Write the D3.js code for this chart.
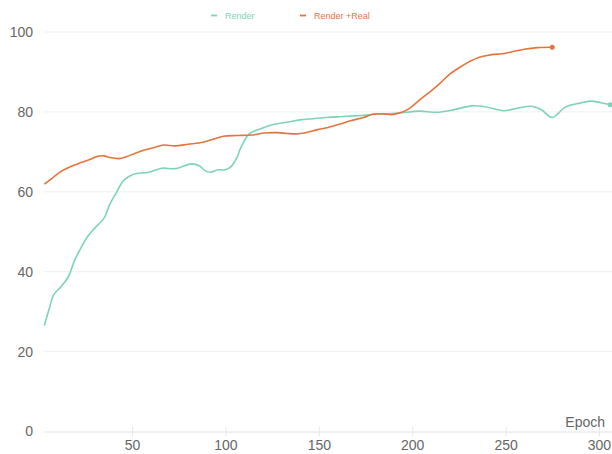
<!DOCTYPE html>
<html>
<head>
<meta charset="utf-8">
<script src="https://cdn.jsdelivr.net/npm/d3@7"></script>
<style>
  html, body { margin: 0; padding: 0; background: #fff; }
  svg { display: block; font-family: "Liberation Sans", Arial, Helvetica, sans-serif; }
</style>
</head>
<body>
<svg id="chart" width="612" height="454"></svg>
<script>
// ---- Data ----
const seriesNames = ["Render", "Render +Real"];

const renderEpochs = [3, 6, 8, 12, 16, 19, 23, 26, 30, 35, 38, 42, 45, 49, 52, 59, 66, 73, 82, 86, 89, 92, 96, 100, 103, 106, 108, 113, 119, 126, 133, 140, 147, 154, 161, 169, 176, 180, 186, 193, 204, 213, 222, 232, 239, 249, 256, 264, 269, 275, 282, 290, 296, 301, 306];
const renderValues = [26.5, 31.3, 34.2, 36.3, 38.8, 42.6, 46.3, 48.7, 50.9, 53.4, 56.8, 60.1, 62.6, 64.0, 64.5, 64.9, 65.9, 65.8, 67.0, 66.5, 65.3, 64.9, 65.5, 65.5, 66.3, 68.4, 70.8, 74.6, 75.8, 76.9, 77.4, 78.0, 78.3, 78.6, 78.8, 79.0, 79.2, 79.5, 79.5, 79.7, 80.2, 79.9, 80.5, 81.5, 81.3, 80.3, 80.9, 81.4, 80.6, 78.6, 81.2, 82.2, 82.7, 82.3, 81.8];

const realEpochs = [3, 8, 12, 16, 22, 27, 31, 35, 38, 43, 47, 52, 57, 62, 67, 73, 80, 88, 93, 99, 106, 114, 121, 128, 133, 138, 143, 149, 155, 161, 167, 174, 179, 185, 189, 193, 198, 204, 210, 215, 220, 226, 231, 236, 241, 250, 254, 260, 267, 275];
const realValues = [61.9, 63.7, 65.1, 66.1, 67.2, 68.0, 68.8, 69.0, 68.6, 68.3, 68.8, 69.7, 70.5, 71.1, 71.7, 71.5, 71.9, 72.4, 73.1, 73.9, 74.1, 74.2, 74.7, 74.8, 74.6, 74.5, 74.8, 75.5, 76.1, 76.9, 77.8, 78.6, 79.4, 79.5, 79.3, 79.7, 80.7, 83.0, 85.2, 87.2, 89.4, 91.3, 92.7, 93.7, 94.2, 94.7, 95.1, 95.7, 96.1, 96.2];

const xTicks = [50, 100, 150, 200, 250, 300];
const yTicks = [0, 20, 40, 60, 80, 100];
const xTitle = "Epoch";

const colors = ["#7dd3b9", "#e5743c"];

// ---- Layout ----
const svg = d3.select("#chart");
const plotLeft = 44.3, plotRight = 612, plotTop = 32, plotBottom = 431.5;

const x = d3.scaleLinear().domain([3, 307]).range([plotLeft, plotRight]);
const y = d3.scaleLinear().domain([0, 100]).range([plotBottom, plotTop]);

// Gridlines
svg.append("g").selectAll("line")
  .data(yTicks.filter(d => d !== 0))
  .join("line")
  .attr("x1", plotLeft).attr("x2", plotRight)
  .attr("y1", d => y(d)).attr("y2", d => y(d))
  .attr("stroke", "#efefef").attr("stroke-width", 1);

// Y tick labels
svg.append("g").selectAll("text")
  .data(yTicks)
  .join("text")
  .attr("x", 33)
  .attr("y", d => y(d))
  .attr("dy", "0.35em")
  .attr("text-anchor", "end")
  .attr("font-size", 14)
  .attr("fill", "#666")
  .text(d => d);

// X axis
const xAxis = d3.axisBottom(x).tickValues(xTicks).tickSize(0).tickPadding(9);
const gx = svg.append("g").attr("transform", `translate(0,${plotBottom})`).call(xAxis);
gx.select(".domain").attr("stroke", "#e2e2e2");
gx.selectAll("text").attr("font-size", 14).attr("fill", "#666")
  .attr("font-family", "Liberation Sans, Arial, sans-serif");
gx.selectAll(".tick").append("line")
  .attr("y1", -5).attr("y2", 5)
  .attr("stroke", "#e8e8e8");

// X axis title
svg.append("text")
  .attr("x", 605).attr("y", 427)
  .attr("text-anchor", "end")
  .attr("font-size", 14)
  .attr("fill", "#666")
  .text(xTitle);

// Lines
const line = d3.line()
  .x(d => x(d[0])).y(d => y(d[1]))
  .curve(d3.curveCatmullRom.alpha(0.5));

const renderData = renderEpochs.map((e, i) => [e, renderValues[i]]);
const realData = realEpochs.map((e, i) => [e, realValues[i]]);
const allSeries = [renderData, realData];

allSeries.forEach((data, i) => {
  svg.append("path")
    .datum(data)
    .attr("fill", "none")
    .attr("stroke", colors[i])
    .attr("stroke-width", 1.6)
    .attr("stroke-linejoin", "round")
    .attr("d", line);
  const last = data[data.length - 1];
  svg.append("circle")
    .attr("cx", x(last[0])).attr("cy", y(last[1]))
    .attr("r", 2.5)
    .attr("fill", colors[i]);
});

// Legend
const legendX = [211, 300];
seriesNames.forEach((name, i) => {
  const g = svg.append("g").attr("transform", `translate(${legendX[i]},15.5)`);
  g.append("line")
    .attr("x1", 0).attr("x2", 6)
    .attr("y1", 0).attr("y2", 0)
    .attr("stroke", colors[i]).attr("stroke-width", 1.8);
  g.append("text")
    .attr("x", 14).attr("y", 0)
    .attr("dy", "0.35em")
    .attr("font-size", 9)
    .attr("fill", colors[i])
    .text(name);
});
</script>
</body>
</html>
